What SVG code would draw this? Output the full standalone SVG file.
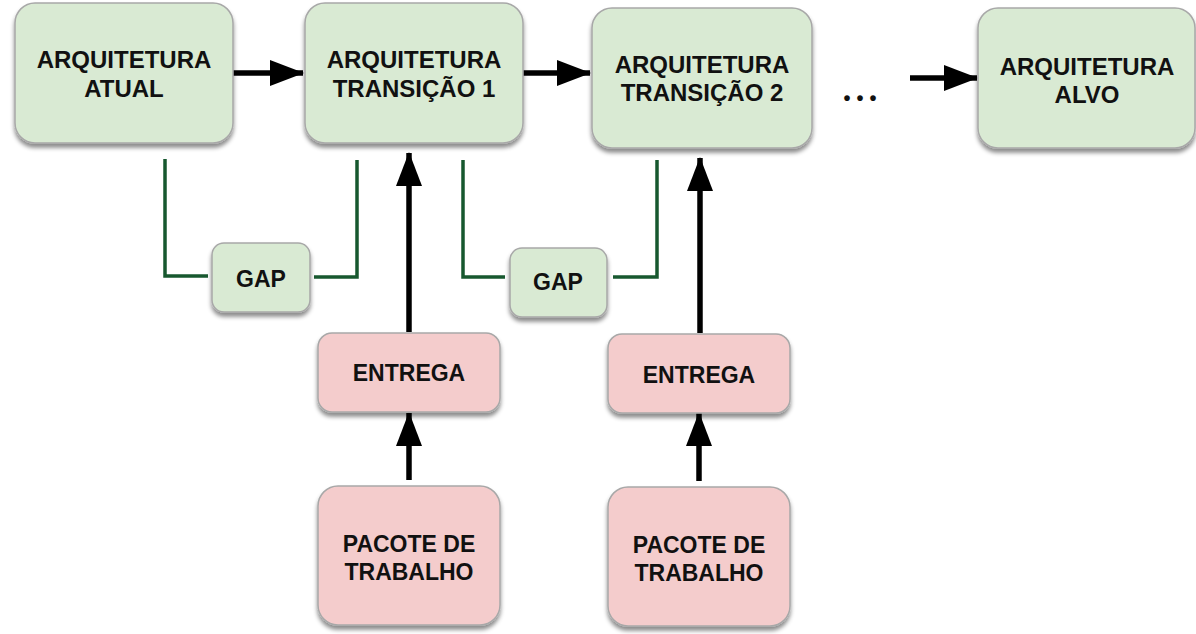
<svg xmlns="http://www.w3.org/2000/svg" width="1196" height="634" viewBox="0 0 1196 634">
<defs>
<filter id="sh" x="-10%" y="-10%" width="120%" height="130%">
<feDropShadow dx="0" dy="4" stdDeviation="2" flood-color="#000" flood-opacity="0.45"/>
</filter>
<marker id="ah" markerUnits="userSpaceOnUse" markerWidth="34" markerHeight="26" refX="33" refY="13" orient="auto">
<path d="M0,0 L34,13 L0,26 Z" fill="#000"/>
</marker>
</defs>
<style>
.g{fill:#d9ead3;stroke:#a8a8a8;stroke-width:1.5;filter:url(#sh)}
.p{fill:#f4cccc;stroke:#a8a8a8;stroke-width:1.5;filter:url(#sh)}
text{font-family:"Liberation Sans",Arial,sans-serif;font-weight:bold;fill:#111;text-anchor:middle}
.t{font-size:24px}
.s{font-size:23px}
.a{stroke:#000;stroke-width:5.5;fill:none;marker-end:url(#ah)}
.b{stroke:#17582f;stroke-width:3.5;fill:none}
</style>
<g id="connectors">
<line class="a" x1="233" y1="73" x2="303" y2="73"/>
<line class="a" x1="523" y1="73" x2="590" y2="73"/>
<line class="a" x1="910" y1="78" x2="977" y2="78"/>
<line class="a" x1="409" y1="332" x2="409" y2="153"/>
<line class="a" x1="700" y1="333" x2="700" y2="158"/>
<line class="a" x1="409" y1="480" x2="409" y2="413"/>
<line class="a" x1="699" y1="481" x2="699" y2="413"/>
<polyline class="b" points="165,159 165,276 208,276"/>
<polyline class="b" points="314,277 357,277 357,160"/>
<polyline class="b" points="463,160 463,277 505,277"/>
<polyline class="b" points="613,277 657,277 657,160"/>
</g>
<g id="atual">
<rect class="g" x="15" y="3" width="218" height="140" rx="20"/>
<text class="t" x="124" y="68">ARQUITETURA</text>
<text class="t" x="124" y="97">ATUAL</text>
</g>
<g id="transicao1">
<rect class="g" x="305" y="3" width="218" height="140" rx="20"/>
<text class="t" x="414" y="68">ARQUITETURA</text>
<text class="t" x="414" y="97">TRANSIÇÃO 1</text>
</g>
<g id="transicao2">
<rect class="g" x="592" y="8" width="220" height="140" rx="20"/>
<text class="t" x="702" y="73">ARQUITETURA</text>
<text class="t" x="702" y="101">TRANSIÇÃO 2</text>
</g>
<g id="dots">
<text x="863" y="105" style="font-size:20px" letter-spacing="6">•••</text>
</g>
<g id="alvo">
<rect class="g" x="978" y="8" width="217" height="140" rx="20"/>
<text class="t" x="1087" y="75">ARQUITETURA</text>
<text class="t" x="1087" y="103">ALVO</text>
</g>
<g id="gap1">
<rect class="g" x="212" y="243" width="98" height="69" rx="12"/>
<text class="s" x="261" y="287">GAP</text>
</g>
<g id="gap2">
<rect class="g" x="510" y="248" width="97" height="69" rx="12"/>
<text class="s" x="558" y="290">GAP</text>
</g>
<g id="entrega1">
<rect class="p" x="318" y="333" width="182" height="79" rx="14"/>
<text class="s" x="409" y="381">ENTREGA</text>
</g>
<g id="entrega2">
<rect class="p" x="608" y="334" width="182" height="79" rx="14"/>
<text class="s" x="699" y="383">ENTREGA</text>
</g>
<g id="pacote1">
<rect class="p" x="318" y="486" width="182" height="139" rx="20"/>
<text class="s" x="409" y="552">PACOTE DE</text>
<text class="s" x="409" y="580">TRABALHO</text>
</g>
<g id="pacote2">
<rect class="p" x="608" y="487" width="182" height="139" rx="20"/>
<text class="s" x="699" y="553">PACOTE DE</text>
<text class="s" x="699" y="581">TRABALHO</text>
</g>
</svg>
